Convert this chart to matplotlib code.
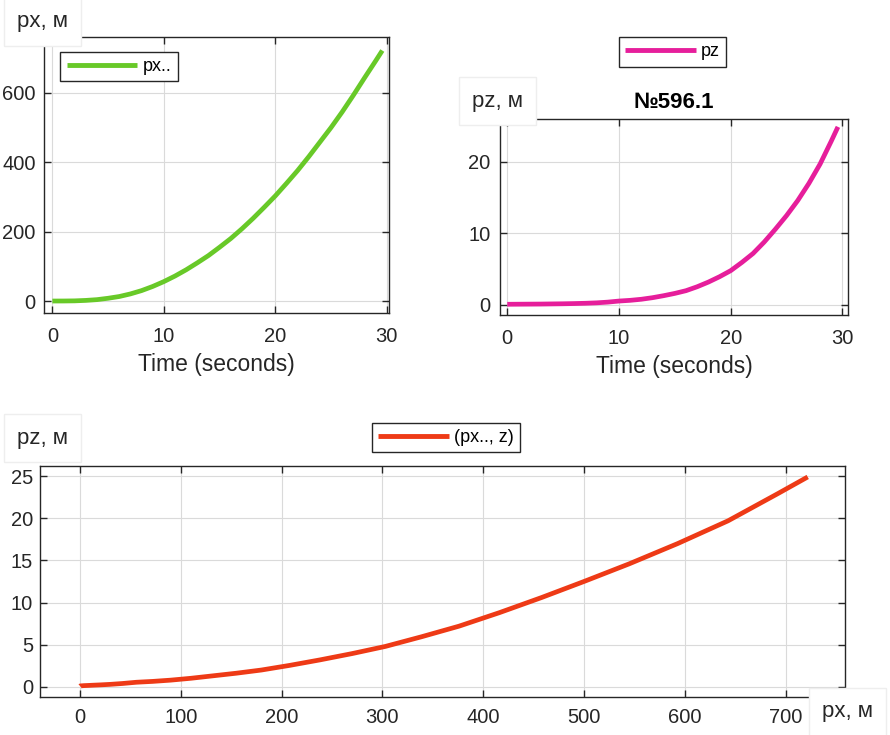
import matplotlib
matplotlib.use('Agg')
import matplotlib.pyplot as plt

# values
t = [0, 1, 2, 3, 4, 5, 6, 7, 8, 9, 10, 11, 12, 13, 14, 15, 16, 17, 18, 19,
     20, 21, 22, 23, 24, 25, 26, 27, 28, 29, 29.6]
px = [0, 0.1, 0.5, 1.8, 4, 8, 13, 20.5, 30, 42, 56, 72, 90, 110, 131, 155,
      180, 208, 238, 270, 303, 339, 376, 416, 458, 500, 545, 593, 643, 692, 722]
pz = [0.1, 0.11, 0.12, 0.13, 0.15, 0.17, 0.2, 0.24, 0.3, 0.4, 0.55, 0.65,
      0.8, 1.02, 1.3, 1.62, 2.0, 2.55, 3.2, 3.95, 4.8, 5.95, 7.2, 8.8, 10.6,
      12.5, 14.6, 17.0, 19.7, 22.9, 24.9]

time_ticks = [0, 10, 20, 30]
px_ticks = [0, 200, 400, 600]
pz_ticks = [0, 10, 20]
xy_xticks = [0, 100, 200, 300, 400, 500, 600, 700]
xy_yticks = [0, 5, 10, 15, 20, 25]

green = '#68C928'
pink = '#E61E9B'
red = '#EE3A16'

plt.rcParams['font.family'] = ['Liberation Sans', 'DejaVu Sans']
plt.rcParams['font.size'] = 14

W, H = 890, 735
fig = plt.figure(figsize=(W / 100, H / 100), dpi=100)


def box(l, t_, r, b):
    return [l / W, 1 - b / H, (r - l) / W, (b - t_) / H]


def style(ax, xpad, ypad):
    ax.grid(True, color='#dadada', lw=0.8)
    ax.set_axisbelow(True)
    ax.tick_params(direction='in', top=True, right=True, length=5,
                   width=1, colors='#262626', labelsize=14.5)
    ax.tick_params(axis='x', pad=xpad)
    ax.tick_params(axis='y', pad=ypad)
    for s in ax.spines.values():
        s.set_linewidth(1)
        s.set_color('#262626')


def label_box(x, y, s):
    fig.text(x / W, 1 - y / H, s, fontsize=16, ha='left', va='center',
             color='#262626',
             bbox=dict(boxstyle='square,pad=0.6', fc='white',
                       ec='#eeeeee', lw=1))


def legend(ax, xc, yc):
    leg = ax.legend(loc='center', bbox_to_anchor=(xc / W, 1 - yc / H),
                    bbox_transform=fig.transFigure, fontsize=13,
                    handlelength=3.9, handletextpad=0.3, borderpad=0.35,
                    fancybox=False, framealpha=1, edgecolor='#262626')
    leg.get_frame().set_linewidth(1)
    for h in leg.get_lines():
        h.set_linewidth(3.5)


# top left: px(t)
ax1 = fig.add_axes(box(44, 37, 389, 313))
ax1.plot(t, px, color=green, lw=3.4, label='px..', solid_capstyle='butt')
ax1.set_xlim(-0.75, 30.2)
ax1.set_ylim(-34.5, 761)
ax1.set_xticks(time_ticks)
ax1.set_yticks(px_ticks)
style(ax1, 10, 6)
ax1.set_xlabel('Time (seconds)', fontsize=16.5, labelpad=5, color='#262626')
legend(ax1, 119, 66.5)
label_box(17, 22, 'px, м')

# top right: pz(t)
ax2 = fig.add_axes(box(500, 119, 848, 315))
ax2.plot(t, pz, color=pink, lw=3.4, label='pz', solid_capstyle='butt')
ax2.set_xlim(-0.65, 30.5)
ax2.set_ylim(-1.4, 26.0)
ax2.set_xticks(time_ticks)
ax2.set_yticks(pz_ticks)
style(ax2, 10, 7)
ax2.set_xlabel('Time (seconds)', fontsize=16.5, labelpad=5, color='#262626')
ax2.set_title('№596.1', fontsize=16, fontweight='bold', pad=8)
legend(ax2, 672.5, 52)
label_box(472, 101, 'pz, м')

# bottom: pz(px)
ax3 = fig.add_axes(box(40, 466, 845, 697))
ax3.plot(px, pz, color=red, lw=3.4, label='(px.., z)', solid_capstyle='butt')
ax3.set_xlim(-39.7, 759)
ax3.set_ylim(-1.2, 26.2)
ax3.set_xticks(xy_xticks)
ax3.set_yticks(xy_yticks)
style(ax3, 8, 5)
legend(ax3, 446, 437.5)
label_box(17, 438, 'pz, м')
label_box(822, 712, 'px, м')

fig.savefig('out.png', dpi=100)
